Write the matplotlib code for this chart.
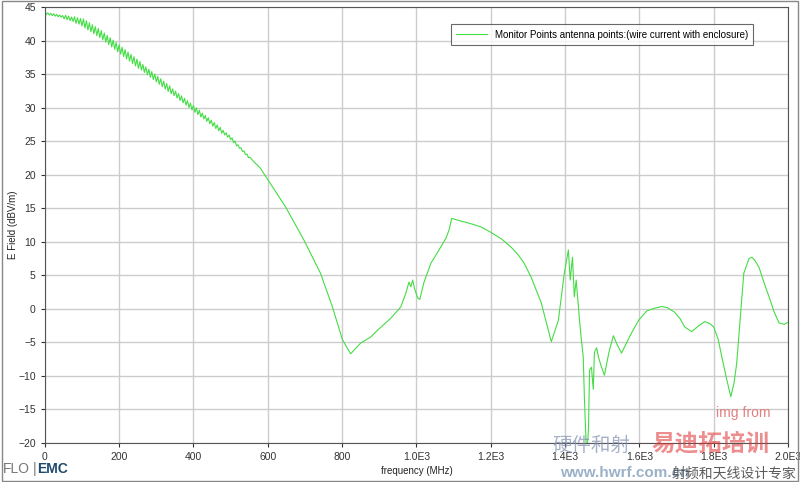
import matplotlib.pyplot as plt

plt.rcParams['font.family'] = ['Liberation Sans', 'Noto Sans CJK SC']

# ripple section, 0..552 MHz every 4 MHz
ripple_freq = [4 * i for i in range(139)]
ripple_efield = [
    44.25, 43.91, 44.17, 43.83, 44.09, 43.75, 44.01, 43.67, 43.93, 43.59,
    43.85, 43.51, 43.77, 43.27, 43.80, 43.14, 43.68, 43.01, 43.55, 42.88,
    43.57, 42.61, 43.44, 42.48, 43.31, 42.20, 43.26, 41.91, 42.97, 41.62,
    42.68, 41.34, 42.39, 41.05, 42.10, 40.76, 41.82, 40.47, 41.51, 40.13,
    41.16, 39.78, 40.80, 39.43, 40.45, 39.07, 40.09, 38.72, 39.74, 38.36,
    39.39, 38.01, 39.03, 37.65, 38.68, 37.30, 38.32, 36.95, 37.97, 36.59,
    37.61, 36.24, 37.26, 35.88, 36.91, 35.63, 36.45, 35.27, 36.10, 34.92,
    35.74, 34.56, 35.39, 34.21, 35.03, 33.86, 34.68, 33.50, 34.33, 33.15,
    33.97, 32.80, 33.62, 32.44, 33.27, 32.09, 32.83, 31.81, 32.47, 31.46,
    32.12, 31.10, 31.77, 30.75, 31.41, 30.39, 31.06, 30.04, 30.70, 29.68,
    30.35, 29.33, 29.99, 28.98, 29.64, 28.62, 29.21, 28.34, 28.86, 27.98,
    28.51, 27.63, 28.15, 27.27, 27.80, 26.92, 27.44, 26.57, 27.09, 26.21,
    26.64, 25.96, 26.28, 25.60, 25.93, 25.25, 25.52, 24.79, 25.05, 24.32,
    24.49, 23.96, 24.03, 23.49, 23.56, 23.03, 23.10, 22.57, 22.63,
]

# rest of the sweep
tail_freq = [
    560, 580, 614, 648, 697, 742, 774, 801, 823, 850, 877, 895, 931, 958,
    972, 980, 985, 990, 995, 1004, 1009, 1020, 1039, 1061, 1080, 1088, 1095,
    1120, 1147, 1175, 1201, 1230, 1255, 1275, 1290, 1309, 1336, 1363, 1382,
    1398, 1409, 1414, 1420, 1425, 1430, 1439, 1444, 1449, 1452, 1457, 1460,
    1463, 1466, 1471, 1476, 1479, 1485, 1490, 1497, 1506, 1518, 1530, 1540,
    1552, 1575, 1598, 1620, 1641, 1660, 1675, 1695, 1710, 1722, 1741, 1760,
    1776, 1790, 1800, 1812, 1822, 1835, 1846, 1855, 1862, 1872, 1881, 1895,
    1903, 1910, 1922, 1935, 1949, 1963, 1976, 1990, 2000,
]
tail_efield = [
    22.1, 21.0, 18.1, 15.2, 10.3, 5.3, 0.3, -4.6, -6.7, -5.1, -4.2, -3.2,
    -1.4, 0.3, 2.4, 4.0, 3.3, 4.3, 3.0, 1.6, 1.4, 3.9, 6.8, 8.8, 10.6, 11.8,
    13.5, 13.1, 12.7, 12.2, 11.4, 10.4, 9.2, 8.0, 6.8, 4.7, 0.9, -4.9, -1.7,
    5.3, 8.8, 4.3, 7.7, 1.8, 4.3, -1.7, -4.6, -7.2, -13.1, -20.5, -20.5,
    -18.0, -9.1, -8.7, -12.0, -6.5, -5.8, -7.2, -8.5, -9.9, -6.5, -4.0, -5.3,
    -6.6, -4.0, -1.7, -0.3, 0.1, 0.35, 0.2, -0.5, -1.5, -2.7, -3.4, -2.5,
    -1.9, -2.2, -2.7, -4.5, -7.2, -10.5, -13.1, -11.0, -8.1, -1.0, 5.3, 7.5,
    7.7, 7.3, 6.2, 4.0, 1.8, -0.5, -2.1, -2.3, -2.0,
]

freq = ripple_freq + tail_freq
efield = ripple_efield + tail_efield

x_ticks = [0, 200, 400, 600, 800, 1000, 1200, 1400, 1600, 1800, 2000]
x_labels = ['0', '200', '400', '600', '800', '1.0E3', '1.2E3', '1.4E3',
            '1.6E3', '1.8E3', '2.0E3']
y_ticks = list(range(-20, 50, 5))

fig = plt.figure(figsize=(8, 4.82), dpi=100)
ax = fig.add_axes([0.056, 0.081, 0.929, 0.904])

ax.plot(freq, efield, color='#44dd44', lw=0.8,
        label='Monitor Points antenna points:(wire current with enclosure)')

ax.set_xlim(0, 2000)
ax.set_ylim(-20, 45)
ax.set_xticks(x_ticks)
ax.set_xticklabels(x_labels)
ax.set_yticks(y_ticks)
ax.grid(True, color='#cccccc', lw=1)
ax.set_axisbelow(True)
for s in ax.spines.values():
    s.set_color('#555555')
ax.tick_params(labelsize=7.5, colors='#333333', length=3, width=0.8)

ax.set_xlabel('frequency (MHz)', fontsize=7, color='#222222', labelpad=3)
ax.set_ylabel('E Field (dBV/m)', fontsize=7, color='#222222')
ax.yaxis.set_label_coords(-0.036, 0.5)

leg = ax.legend(loc='upper right', bbox_to_anchor=(0.96, 0.972), fontsize=7,
                frameon=True, fancybox=False, handlelength=3.2,
                borderpad=0.55)
leg.get_frame().set_edgecolor('#444444')
leg.get_frame().set_linewidth(0.8)

# outer frame and logo
fig.patches.append(plt.Rectangle((0.003, 0.003), 0.994, 0.994,
                                 transform=fig.transFigure, fill=False,
                                 edgecolor='#888888', lw=1))
fig.text(0.003, 0.018, 'FLO', fontsize=10, color='#777777')
fig.text(0.041, 0.018, '|', fontsize=10, color='#777777')
fig.text(0.047, 0.018, 'EMC', fontsize=10, color='#1e4a6e', weight='bold')

# watermark from the source page
fig.text(0.895, 0.135, 'img from', fontsize=10, color='#e08080')
fig.text(0.69, 0.065, '硬件和射', fontsize=14, color='#8090b0', alpha=0.7,
         style='italic')
fig.text(0.815, 0.065, '易迪拓培训', fontsize=17, color='#e03030', alpha=0.55,
         weight='bold')
fig.text(0.70, 0.01, 'www.hwrf.com.cn', fontsize=11, color='#7090b0',
         alpha=0.7, weight='bold')
fig.text(0.84, 0.01, '射频和天线设计专家', fontsize=10, color='#333333',
         alpha=0.8)

fig.savefig('out.png', dpi=100)
